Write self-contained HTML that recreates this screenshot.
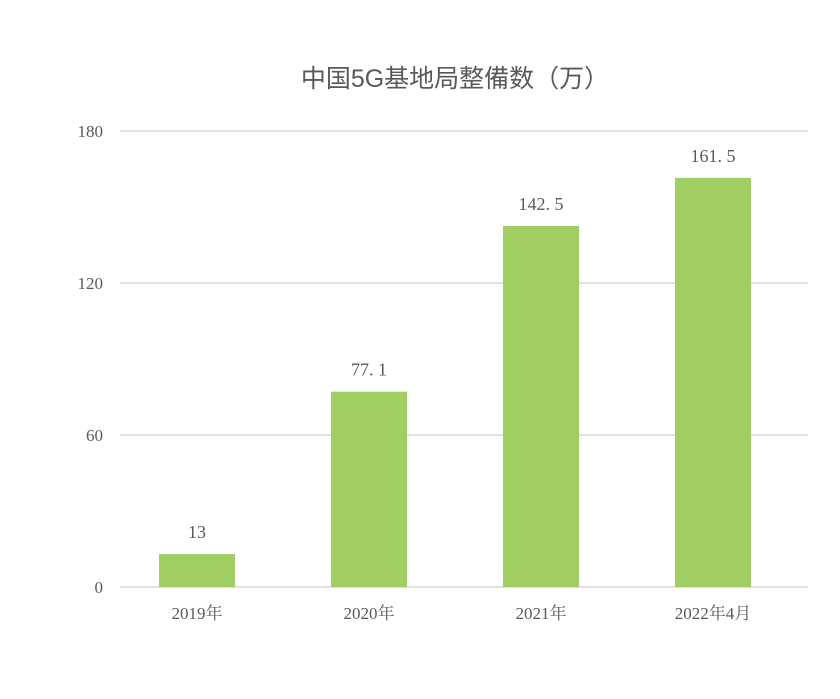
<!DOCTYPE html>
<html><head><meta charset="utf-8"><style>
body{margin:0;background:#fff;}
svg text{font-family:"Liberation Serif","Noto Serif CJK SC",serif;fill:#595959;}
</style></head><body>
<svg id="chart" width="840" height="694">
<text x="455" y="87" text-anchor="middle" font-size="25" style="font-family:'Liberation Sans','Noto Sans CJK SC',sans-serif">中国5G基地局整備数（万）</text>
<g id="grid"></g><g id="bars"></g><g id="labels"></g>
</svg>
<script>
const categories=["2019年","2020年","2021年","2022年4月"];
const values=[13,77.1,142.5,161.5];
const valueLabels=["13","77. 1","142. 5","161. 5"];
const ticks=[0,60,120,180];
const x0=120,x1=808,yTop=131,yBot=587,yMax=180;
const y=v=>yBot-(v/yMax)*(yBot-yTop);
const band=(x1-x0)/categories.length;
const cx=i=>x0+band*(i+0.5)-9;
const ns="http://www.w3.org/2000/svg";
function mk(t,a,p){const e=document.createElementNS(ns,t);for(const k in a)e.setAttribute(k,a[k]);p.appendChild(e);return e;}
const g=document.getElementById('grid'),b=document.getElementById('bars'),l=document.getElementById('labels');
ticks.forEach(t=>{
 const ln=mk('line',{x1:x0,x2:x1,y1:y(t),y2:y(t),stroke:'#d9d9d9','stroke-width':1.5},g);
 
 
 const tx=mk('text',{x:103,y:y(t)+6,'text-anchor':'end','font-size':17},g);tx.textContent=t;
 
 
});
categories.forEach((c,i)=>{
 const r=mk('rect',{x:cx(i)-38,y:y(values[i]),width:76,height:yBot-y(values[i]),fill:'#a0ce63'},b);
 
 
 const v=mk('text',{x:cx(i),y:y(values[i])-16,'text-anchor':'middle','font-size':18},l);v.textContent=valueLabels[i];
 
 
 const xl=mk('text',{x:cx(i),y:619,'text-anchor':'middle','font-size':17},l);xl.textContent=c;
 
 
});
</script>
</body></html>
